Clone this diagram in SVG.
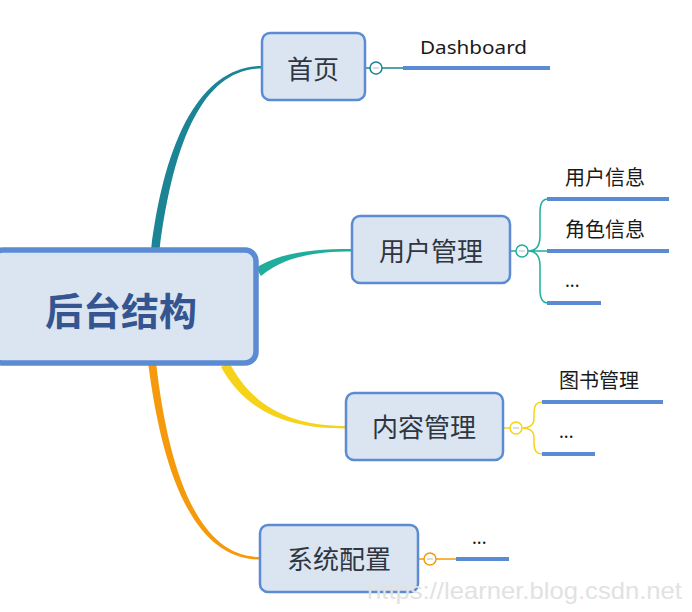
<svg xmlns="http://www.w3.org/2000/svg" width="692" height="612" viewBox="0 0 692 612">
<style>
.node{fill:#dbe5f2;stroke:#5b8bd2;stroke-width:2.5}
.root{fill:#dbe5f2;stroke:#5b8bd2;stroke-width:5.5}
.nt{font-family:"Noto Sans CJK SC","Noto Sans",sans-serif;font-size:26px;fill:#2f3640;text-anchor:middle}
.rt{font-family:"Noto Sans CJK SC","Noto Sans",sans-serif;font-size:38px;font-weight:bold;fill:#34558f;text-anchor:middle}
.ct{font-family:"Noto Sans CJK SC","Noto Sans",sans-serif;font-size:20px;fill:#1a1a1a}
.dt{font-family:"Noto Sans","Liberation Sans",sans-serif;font-size:18px;fill:#1a1a1a}
.bar{stroke:#5b8bd2;stroke-width:4;fill:none}
.thin{fill:none;stroke-width:1.5}
.tog{fill:#fff;stroke-width:1.5}
.minus{stroke:#bbb;stroke-width:1}
</style>
<g id="connectors">
  <path d="M151,250 C166,130 205,66 262,66 L262,68.5 C207,68.5 174.5,132 159.5,250 Z" fill="#1b8495"/>
  <path d="M256,268 C279,253 310,249 352,249 L352,251.5 C310,251.5 283,258 261,276 Z" fill="#1fae9c"/>
  <path d="M229,362 C253,408 292,426 346,426 L346,428.5 C288,428.5 247,413 221,367 Z" fill="#f7d21a"/>
  <path d="M156,362 C168,468 197,557 260,557 L260,559.5 C193,559.5 162,472 148,362 Z" fill="#f59a0c"/>

  <path class="thin" stroke="#1b8495" d="M365,68 H370 M382,68 H403"/>
  <path class="bar" d="M403,68 H550"/>

  <path class="thin" stroke="#1fae9c" d="M510,251 H516 M528,251 H548 M528,251 Q540,251 540,236 V212 Q540,199 548,199 M528,251 Q540,251 540,266 V290 Q540,303 548,303"/>
  <path class="bar" d="M547,199 H669 M547,251 H669 M547,303 H601"/>

  <path class="thin" stroke="#f7d21a" d="M503,428 H510 M522,428 Q534,428 534,418 V412 Q534,402 542,402 M522,428 Q534,428 534,438 V444 Q534,454 542,454"/>
  <path class="bar" d="M542,402 H663 M542,454 H595"/>

  <path class="thin" stroke="#f59a0c" d="M418,559 H424 M436,559 H456"/>
  <path class="bar" d="M456,559 H509"/>
</g>
<g id="toggles">
  <circle class="tog" stroke="#1b8495" cx="376" cy="68" r="6"/><path class="minus" d="M373,68 H379"/>
  <circle class="tog" stroke="#1fae9c" cx="522" cy="251" r="6"/><path class="minus" d="M519,251 H525"/>
  <circle class="tog" stroke="#f7d21a" cx="516" cy="428" r="6"/><path class="minus" d="M513,428 H519"/>
  <circle class="tog" stroke="#f59a0c" cx="430" cy="559" r="6"/><path class="minus" d="M427,559 H433"/>
</g>
<g id="root">
  <rect class="root" x="-8" y="250" width="264" height="113" rx="11"/>
  <text class="rt" x="121" y="325">后台结构</text>
</g>
<g id="home">
  <rect class="node" x="262" y="33" width="103" height="67" rx="8"/>
  <text class="nt" x="313" y="79">首页</text>
</g>
<g id="dashboard"><text class="dt" x="420" y="54" font-size="20" textLength="107" lengthAdjust="spacingAndGlyphs">Dashboard</text></g>
<g id="user">
  <rect class="node" x="352" y="216" width="158" height="67" rx="8"/>
  <text class="nt" x="431" y="261">用户管理</text>
</g>
<g id="userinfo"><text class="ct" x="565" y="185">用户信息</text></g>
<g id="roleinfo"><text class="ct" x="565" y="237">角色信息</text></g>
<g id="user-more"><text class="dt" x="565" y="287">...</text></g>
<g id="content">
  <rect class="node" x="346" y="393" width="157" height="67" rx="8"/>
  <text class="nt" x="424" y="437">内容管理</text>
</g>
<g id="books"><text class="ct" x="559" y="388">图书管理</text></g>
<g id="content-more"><text class="dt" x="559" y="438">...</text></g>
<g id="system">
  <rect class="node" x="260" y="525" width="158" height="67" rx="8"/>
  <text class="nt" x="339" y="569">系统配置</text>
</g>
<g id="system-more"><text class="dt" x="472" y="544">...</text></g>
<text x="367" y="599" font-family="Liberation Sans,sans-serif" font-size="24" fill="#e2e2e2" textLength="315" lengthAdjust="spacingAndGlyphs">https://learner.blog.csdn.net</text>
</svg>
